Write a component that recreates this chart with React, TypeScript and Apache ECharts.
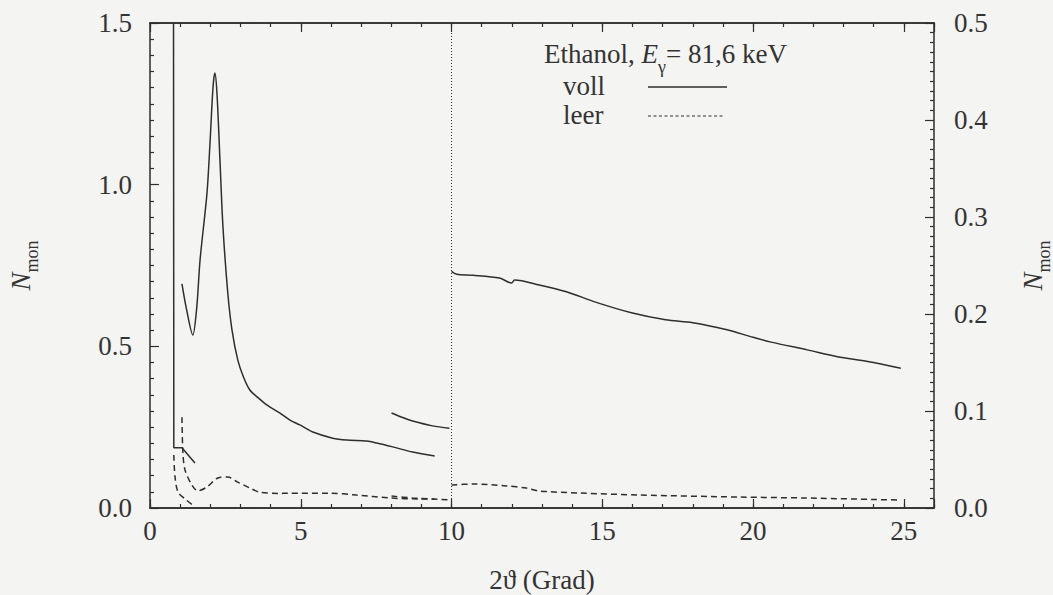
import React, { useEffect, useRef } from "react";
import * as echarts from "echarts";

// ---- data (2θ in Grad, N_mon) ----
// "voll" (full cell), left axis (0–1.5)
const vollA: number[][] = [[0.78, 1.5], [0.79, 0.186], [1.06, 0.186], [1.49, 0.139]];
const vollB: number[][] = [
  [1.06, 0.693], [1.2, 0.62], [1.42, 0.535], [1.55, 0.62], [1.66, 0.767], [1.89, 0.974], [1.99, 1.129],
  [2.09, 1.302], [2.15, 1.345], [2.22, 1.284], [2.32, 1.076], [2.42, 0.869], [2.58, 0.665],
  [2.72, 0.55], [2.91, 0.458], [3.1, 0.405], [3.31, 0.365], [3.6, 0.34], [3.87, 0.319],
  [4.3, 0.294], [4.64, 0.272], [4.97, 0.257], [5.4, 0.235], [6.06, 0.216], [6.52, 0.21],
  [7.19, 0.207], [7.52, 0.201], [8.05, 0.189], [8.71, 0.173], [9.44, 0.161],
];
const vollC: number[][] = [[8.01, 0.294], [8.4, 0.279], [8.71, 0.269], [9.37, 0.254], [9.93, 0.247]];
// "voll", right axis (0–0.5)
const vollD: number[][] = [
  [10.0, 0.244], [10.17, 0.241], [10.7, 0.24], [11.59, 0.237], [11.99, 0.232], [12.09, 0.235],
  [12.91, 0.23], [13.81, 0.223], [14.8, 0.212], [16.0, 0.201], [17.1, 0.194], [18.0, 0.191],
  [19.1, 0.184], [20.0, 0.176], [20.6, 0.171], [21.8, 0.163], [22.8, 0.156], [23.8, 0.151], [24.9, 0.144],
];
// "leer" (empty cell), left axis
const leerA: number[][] = [[0.79, 0.164], [0.83, 0.096], [0.93, 0.049], [1.16, 0.028], [1.42, 0.009]];
const leerB: number[][] = [
  [1.06, 0.281], [1.09, 0.173], [1.16, 0.118], [1.39, 0.071], [1.59, 0.053], [1.89, 0.065],
  [2.25, 0.093], [2.58, 0.096], [2.91, 0.08], [3.31, 0.062], [3.64, 0.049], [4.3, 0.045],
  [4.54, 0.046], [5.96, 0.046], [6.85, 0.04], [7.95, 0.031], [8.94, 0.028], [9.44, 0.028],
];
const leerC: number[][] = [[8.01, 0.037], [8.7, 0.031], [10.0, 0.025]];
// "leer", right axis
const leerD: number[][] = [
  [10.0, 0.0237], [10.7, 0.0247], [11.82, 0.0227], [12.48, 0.0206], [12.91, 0.0175], [14.24, 0.0155],
  [16.23, 0.0134], [19.54, 0.0113], [21.75, 0.0103], [24.83, 0.0082],
];
const divider: number[][] = [[10, 0], [10, 1.5]];

const xTickLabels = [0, 5, 10, 15, 20, 25];

const FONT = '"Liberation Serif", "DejaVu Serif", serif';
const INK = "#2e2e2e";
const TXT = "#333333";
const BG = "#f4f4f2";
const FS = 27;

export default function App() {
  const ref = useRef<HTMLDivElement>(null);
  useEffect(() => {
    if (!ref.current) return;
    const chart = echarts.init(ref.current, null, { renderer: "svg" });
    const axLine = { show: true, onZero: false, lineStyle: { color: INK, width: 1.5 } };
    const tickStyle = { color: INK, width: 1.2 };
    const labelStyle = { fontFamily: FONT, fontSize: FS, color: TXT, fontWeight: "normal" };
    const nameRich = {
      n: { fontFamily: FONT, fontSize: FS, fontStyle: "italic", color: TXT, lineHeight: 30, verticalAlign: "middle" },
      s: { fontFamily: FONT, fontSize: 18, color: TXT, lineHeight: 18, verticalAlign: "bottom", padding: [0, 0, -5, 0] },
    };
    const xBase = { type: "value", min: 0, max: 26, splitLine: { show: false }, axisLine: axLine };
    const line = (name: string, data: number[][], y: number, dashed: boolean) => ({
      type: "line",
      name,
      data,
      yAxisIndex: y,
      xAxisIndex: 0,
      showSymbol: false,
      symbol: "none",
      smooth: 0.3,
      lineStyle: { color: INK, width: 1.5, type: dashed ? [6, 4] : "solid" },
      z: 3,
    });
    chart.setOption({
      animation: false,
      backgroundColor: BG,
      grid: { left: 150, right: 119, top: 23, bottom: 87, outerBoundsMode: "none", containLabel: false },
      title: {
        text: "{a|Ethanol, }{e|E}{s|γ}{a|= 81,6 keV}",
        left: 544,
        top: 38,
        padding: 0,
        textStyle: {
          fontWeight: "normal",
          rich: {
            a: { fontFamily: FONT, fontSize: FS, fontWeight: "normal", color: TXT, lineHeight: 32, verticalAlign: "middle" },
            e: { fontFamily: FONT, fontSize: FS, fontWeight: "normal", fontStyle: "italic", color: TXT, lineHeight: 32, verticalAlign: "middle" },
            s: { fontFamily: FONT, fontSize: 18, fontWeight: "normal", color: TXT, lineHeight: 18, verticalAlign: "bottom", padding: [0, 0, -6, 0] },
          },
        },
      },
      graphic: [
        { type: "text", left: 563, top: 72, style: { text: "voll", fontFamily: FONT, fontSize: FS, fill: TXT } },
        { type: "text", left: 563, top: 101, style: { text: "leer", fontFamily: FONT, fontSize: FS, fill: TXT } },
        { type: "line", shape: { x1: 648, y1: 87, x2: 727, y2: 87 }, style: { stroke: INK, lineWidth: 1.5 } },
        { type: "line", shape: { x1: 648, y1: 116, x2: 725, y2: 116 }, style: { stroke: INK, lineWidth: 1.2, lineDash: [3, 2.5] } },
      ],
      xAxis: [
        {
          ...xBase,
          position: "bottom",
          interval: 1,
          axisTick: { show: true, inside: true, length: 4, lineStyle: tickStyle },
          axisLabel: {
            ...labelStyle,
            margin: 9,
            formatter: (v: number) => (xTickLabels.includes(v) ? String(v) : ""),
          },
          name: "2ϑ (Grad)",
          nameLocation: "middle",
          nameGap: 58,
          nameTextStyle: labelStyle,
        },
        {
          ...xBase,
          position: "bottom",
          interval: 5,
          axisTick: { show: true, inside: true, length: 9, lineStyle: tickStyle },
          axisLabel: { show: false },
        },
        {
          ...xBase,
          position: "top",
          interval: 1,
          axisTick: { show: true, inside: true, length: 4, lineStyle: tickStyle },
          axisLabel: { show: false },
        },
        {
          ...xBase,
          position: "top",
          interval: 5,
          axisTick: { show: true, inside: true, length: 9, lineStyle: tickStyle },
          axisLabel: { show: false },
        },
      ],
      yAxis: [
        {
          type: "value",
          position: "left",
          min: 0,
          max: 1.5,
          interval: 0.5,
          axisLine: axLine,
          splitLine: { show: false },
          axisTick: { show: true, inside: true, length: 9, lineStyle: tickStyle },
          minorTick: { show: true, splitNumber: 10, length: 4, lineStyle: tickStyle },
          axisLabel: { ...labelStyle, margin: 18, formatter: (v: number) => v.toFixed(1) },
          name: "{n|N}{s|mon}",
          nameLocation: "middle",
          nameRotate: 90,
          nameGap: 114,
          nameTextStyle: { rich: nameRich },
        },
        {
          type: "value",
          position: "right",
          min: 0,
          max: 0.5,
          interval: 0.1,
          axisLine: axLine,
          splitLine: { show: false },
          axisTick: { show: true, inside: true, length: 9, lineStyle: tickStyle },
          minorTick: { show: true, splitNumber: 10, length: 4, lineStyle: tickStyle },
          axisLabel: { ...labelStyle, margin: 20, formatter: (v: number) => v.toFixed(1) },
          name: "{n|N}{s|mon}",
          nameLocation: "middle",
          nameRotate: 90,
          nameGap: 84,
          nameTextStyle: { rich: nameRich },
        },
      ],
      series: [
        {
          type: "line",
          name: "divider",
          data: divider,
          xAxisIndex: 0,
          yAxisIndex: 0,
          symbol: "none",
          lineStyle: { color: INK, width: 1, type: [1, 2] },
          z: 2,
        },
        { ...line("voll", vollA, 0, false), smooth: false },
        line("voll", vollB, 0, false),
        line("voll", vollC, 0, false),
        line("voll", vollD, 1, false),
        line("leer", leerA, 0, true),
        line("leer", leerB, 0, true),
        line("leer", leerC, 0, true),
        line("leer", leerD, 1, true),
      ],
    });
    return () => chart.dispose();
  }, []);
  return (
    <div
      ref={ref}
      style={{ position: "fixed", left: 0, top: 0, width: 1053, height: 595, background: BG }}
    />
  );
}
